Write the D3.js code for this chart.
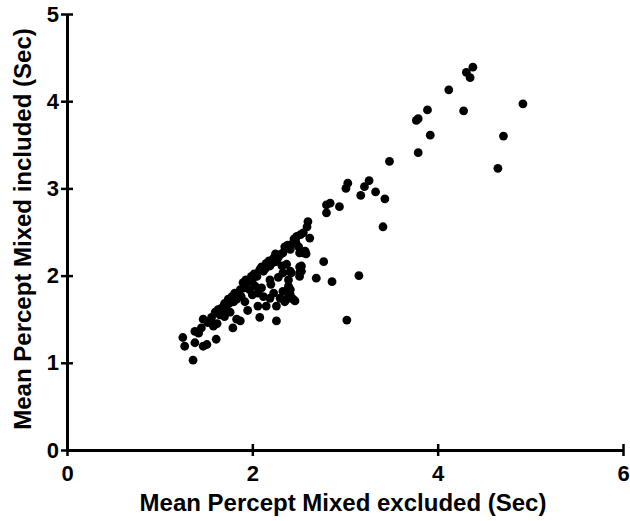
<!DOCTYPE html>
<html>
<head>
<meta charset="utf-8">
<script src="https://cdn.jsdelivr.net/npm/d3@7"></script>
<style>
  body { margin: 0; background: #fff; }
  svg text { font-family: "Liberation Sans", Arial, sans-serif; font-weight: bold; fill: #000; }
</style>
</head>
<body>
<svg id="chart" width="630" height="521"></svg>
<script>
// Mean percept mixed duration, excluded (x) vs included (y), seconds
const excluded = [
  1.25, 1.27, 1.36, 1.38, 1.42, 1.38, 1.47, 1.51, 1.47, 1.52, 1.58, 1.56, 1.61, 1.63, 1.65, 1.69,
  1.72, 1.70, 1.79, 1.83, 1.74, 1.78, 1.81, 1.83, 1.87, 1.88, 1.90, 1.96, 1.99, 1.97, 2.03, 2.06,
  2.08, 2.15, 2.26, 2.26, 2.06, 2.12, 2.19, 2.23, 2.30, 2.37, 2.41, 2.46, 2.05, 2.08, 2.12, 2.15,
  2.19, 2.19, 2.23, 2.26, 2.30, 2.33, 2.32, 2.37, 2.41, 2.44, 2.48, 2.50, 2.55, 2.59, 2.60, 2.62,
  2.57, 2.53, 2.51, 2.41, 2.39, 2.77, 2.69, 2.86, 3.02, 2.80, 2.80, 2.94, 2.84, 2.39, 2.41, 1.87,
  3.15, 3.03, 3.01, 3.26, 3.21, 3.33, 3.17, 3.43, 3.41, 3.48, 3.79, 3.92, 3.79, 3.77, 3.89, 4.12,
  4.28, 4.38, 4.31, 4.35, 4.92, 4.71, 4.65, 2.55, 2.58, 2.51,
  1.45, 1.55, 1.60, 1.66, 1.75, 1.80, 1.85, 1.92, 1.93, 2.00, 2.02, 2.10, 2.14, 2.18, 2.22, 2.25,
  2.28, 2.35, 2.38, 2.45, 2.47, 2.52, 1.70, 1.76, 1.62, 1.92, 2.00, 1.95, 2.10, 2.20, 2.33, 2.28,
  2.35, 2.33, 2.42, 2.51, 2.53, 2.51, 2.39, 2.44
];
const included = [
  1.29, 1.19, 1.03, 1.36, 1.34, 1.23, 1.19, 1.21, 1.50, 1.46, 1.42, 1.52, 1.27, 1.61, 1.55, 1.65,
  1.61, 1.53, 1.40, 1.50, 1.73, 1.76, 1.80, 1.73, 1.84, 1.76, 1.92, 1.93, 1.99, 1.84, 1.88, 1.65,
  1.52, 1.65, 1.65, 1.48, 1.80, 1.76, 1.74, 1.80, 1.74, 1.73, 1.84, 1.71, 1.99, 2.07, 2.05, 2.14,
  2.11, 1.95, 2.20, 2.16, 2.24, 2.26, 2.11, 2.13, 2.30, 2.37, 2.45, 2.33, 2.49, 2.56, 2.62, 2.43,
  2.28, 2.05, 1.99, 2.05, 1.95, 2.16, 1.97, 1.93, 1.49, 2.81, 2.72, 2.79, 2.83, 1.88, 1.78, 1.48,
  2.00, 3.06, 3.00, 3.09, 3.02, 2.96, 2.92, 2.88, 2.56, 3.31, 3.41, 3.61, 3.80, 3.78, 3.90, 4.13,
  3.89, 4.39, 4.33, 4.27, 3.97, 3.60, 3.23, 2.26, 2.25, 2.10,
  1.40, 1.48, 1.58, 1.62, 1.68, 1.70, 1.80, 1.86, 1.95, 1.95, 2.02, 2.10, 2.08, 2.17, 2.15, 2.25,
  2.21, 2.33, 2.35, 2.42, 2.38, 2.47, 1.68, 1.58, 1.45, 1.70, 1.78, 1.60, 1.86, 1.90, 1.82, 1.98,
  1.70, 2.03, 2.03, 2.03, 2.11, 2.26, 1.86, 1.73
];
const xTicks = [0, 2, 4, 6];
const yTicks = [0, 1, 2, 3, 4, 5];
const xTitle = "Mean Percept Mixed excluded (Sec)";
const yTitle = "Mean Percept Mixed included (Sec)";

const points = excluded.map((d, i) => ({ x: d, y: included[i] }));

const svg = d3.select("svg#chart");
const margin = { left: 67, right: 7, top: 14, bottom: 71 };
const width = 630 - margin.left - margin.right;
const height = 521 - margin.top - margin.bottom;

const x = d3.scaleLinear().domain([0, 6]).range([0, width]);
const y = d3.scaleLinear().domain([0, 5]).range([height, 0]);

const g = svg.append("g").attr("transform", `translate(${margin.left},${margin.top})`);

// axes, prism style: ticks cross the line
const xAxis = g.append("g")
    .attr("transform", `translate(0,${height})`)
    .call(d3.axisBottom(x).tickValues(xTicks).tickFormat(d3.format("d")).tickSizeOuter(0));
xAxis.selectAll(".tick line").attr("y1", -6).attr("y2", 6);
xAxis.selectAll(".tick text").attr("y", 15).attr("font-size", 22);

const yAxis = g.append("g")
    .call(d3.axisLeft(y).tickValues(yTicks).tickFormat(d3.format("d")).tickSizeOuter(0));
yAxis.selectAll(".tick line").attr("x1", -6).attr("x2", 6);
yAxis.selectAll(".tick text").attr("x", -8).attr("font-size", 22);

g.selectAll(".domain").attr("stroke", "#000").attr("stroke-width", 3);
g.selectAll(".tick line").attr("stroke", "#000").attr("stroke-width", 2.5);

// dots
g.append("g")
  .selectAll("circle")
  .data(points)
  .join("circle")
    .attr("cx", d => x(d.x))
    .attr("cy", d => y(d.y))
    .attr("r", 4.4)
    .attr("fill", "#000");

// titles
svg.append("text")
    .attr("x", 343)
    .attr("y", 511)
    .attr("text-anchor", "middle")
    .attr("font-size", 24)
    .text(xTitle);

svg.append("text")
    .attr("transform", "translate(31,229) rotate(-90)")
    .attr("text-anchor", "middle")
    .attr("font-size", 24)
    .text(yTitle);
</script>
</body>
</html>
